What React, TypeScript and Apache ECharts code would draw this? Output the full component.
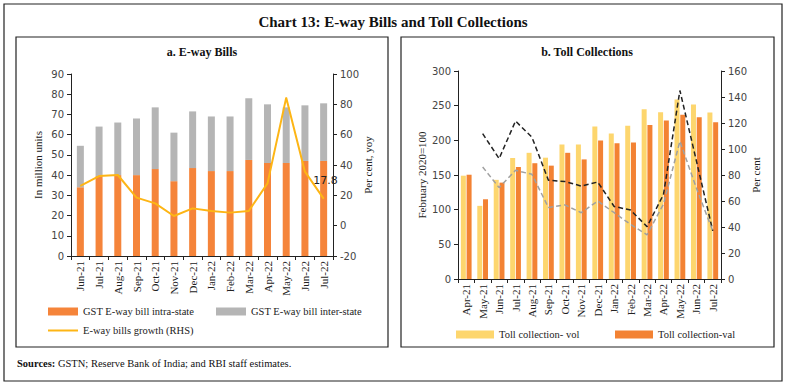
import React, { useEffect, useRef } from "react";
import * as echarts from "echarts";

// Panel a: E-way bills
const monthsA = ["Jun-21","Jul-21","Aug-21","Sep-21","Oct-21","Nov-21","Dec-21","Jan-22","Feb-22","Mar-22","Apr-22","May-22","Jun-22","Jul-22"];
const intraState = [34, 39.5, 40, 40, 43, 37, 43.5, 42, 42, 47.5, 46, 46, 47, 47];
const interState = [20.5, 24.5, 26, 28, 30.5, 24, 28, 27, 27, 30.5, 29, 27.5, 27.5, 28.5];
const ewayGrowth = [26.2, 32.7, 33.4, 18.5, 14.7, 6.4, 11.4, 9.7, 8.6, 9.7, 27.9, 84.4, 35.6, 17.8];

// Panel b: Toll collections
const monthsB = ["Apr-21","May-21","Jun-21","Jul-21","Aug-21","Sep-21","Oct-21","Nov-21","Dec-21","Jan-22","Feb-22","Mar-22","Apr-22","May-22","Jun-22","Jul-22"];
const tollVol = [149, 105.5, 143, 174.5, 182, 175, 194, 194, 220, 210, 221, 245, 240.6, 259, 251.7, 240];
const tollVal = [150.4, 115, 139, 161.5, 167, 163.5, 182, 172.5, 199.6, 195.8, 197, 222, 228.6, 237, 233.4, 226];
const valGrowth = [null, 111.8, 92.6, 121.5, 109, 76, 75, 71.5, 74.6, 55.8, 53, 40.3, 65, 145, 91, 37];
const volGrowth = [null, 86.2, 70.3, 83.6, 80.5, 55, 57, 51, 60, 51, 42, 34, 57.6, 106, 70, 37];

const SERIF = "'Liberation Serif', 'DejaVu Serif', serif";
const SANS = "'DejaVu Sans', Verdana, sans-serif";
const ORANGE = "#F5843A";
const GREY = "#B5B5B5";
const YLINE = "#FDB515";
const YBAR = "#FDD66E";
const OBAR = "#F38233";

const axisLine = { show: true, lineStyle: { color: "#222", width: 1 } };
const tickLbl = { fontFamily: SANS, fontSize: 10, color: "#444" };
const xLbl = { rotate: 90, fontFamily: SERIF, fontSize: 11, color: "#222", margin: 5, interval: 0 };

export default function App() {
  const ref = useRef<HTMLDivElement>(null);
  useEffect(() => {
    const chart = echarts.init(ref.current!, null, { renderer: "svg" });
    const legendText = { fontFamily: SERIF, fontSize: 10.5, color: "#222" };
    const lastA = ewayGrowth.length - 1;
    const option: any = {
      animation: false,
      backgroundColor: "#fff",
      graphic: [
        { type: "rect", shape: { x: 4, y: 4, width: 778, height: 377 }, style: { fill: "none", stroke: "#222", lineWidth: 1.2 } },
        { type: "rect", shape: { x: 16, y: 37, width: 372, height: 310 }, style: { fill: "none", stroke: "#222", lineWidth: 1.2 } },
        { type: "rect", shape: { x: 401, y: 37, width: 373, height: 310 }, style: { fill: "none", stroke: "#222", lineWidth: 1.2 } },
        { type: "text", x: 393, y: 22, style: { text: "Chart 13: E-way Bills and Toll Collections", fontFamily: SERIF, fontSize: 15, fontWeight: "bold", fill: "#111", align: "center", verticalAlign: "middle" } },
        { type: "text", x: 202, y: 52, style: { text: "a. E-way Bills", fontFamily: SERIF, fontSize: 12, fontWeight: "bold", fill: "#111", align: "center", verticalAlign: "middle" } },
        { type: "text", x: 587, y: 52, style: { text: "b. Toll Collections", fontFamily: SERIF, fontSize: 12, fontWeight: "bold", fill: "#111", align: "center", verticalAlign: "middle" } },
        { type: "text", x: 17, y: 363, style: { text: "{b|Sources:} GSTN; Reserve Bank of India; and RBI staff estimates.", rich: { b: { fontFamily: SERIF, fontSize: 10.5, fontWeight: "bold", fill: "#111" } }, fontFamily: SERIF, fontSize: 10.5, fill: "#111", verticalAlign: "middle" } },
      ],
      legend: [
        { data: ["GST E-way bill intra-state"], left: 43, top: 301, itemWidth: 30, itemHeight: 8, icon: "rect", textStyle: legendText, selectedMode: false },
        { data: ["GST E-way bill inter-state"], left: 211, top: 301, itemWidth: 30, itemHeight: 8, icon: "rect", textStyle: legendText, selectedMode: false },
        { data: ["E-way bills growth (RHS)"], left: 43, top: 320, itemWidth: 30, itemHeight: 2, icon: "rect", textStyle: legendText, selectedMode: false },
        { data: ["Toll collection- vol"], left: 451, top: 324, itemWidth: 38, itemHeight: 8, icon: "rect", textStyle: legendText, selectedMode: false },
        { data: ["Toll collection-val"], left: 610, top: 324, itemWidth: 38, itemHeight: 8, icon: "rect", textStyle: legendText, selectedMode: false },
      ],
      grid: [
        { left: 71, top: 74, width: 262, height: 182 },
        { left: 458, top: 71, width: 263, height: 208 },
      ],
      xAxis: [
        { type: "category", gridIndex: 0, data: monthsA, axisLine, axisTick: { show: true, length: 4, lineStyle: { color: "#222" } }, axisLabel: xLbl },
        { type: "category", gridIndex: 1, data: monthsB, axisLine, axisTick: { show: true, length: 4, lineStyle: { color: "#222" } }, axisLabel: xLbl },
      ],
      yAxis: [
        { type: "value", gridIndex: 0, min: 0, max: 90, interval: 10, axisLine, axisTick: { show: true, length: 4 }, splitLine: { show: false }, axisLabel: { ...tickLbl, margin: 7 },
          name: "In million units", nameLocation: "middle", nameRotate: 90, nameGap: 28, nameTextStyle: { fontFamily: SERIF, fontSize: 11, color: "#222" } },
        { type: "value", gridIndex: 0, position: "right", min: -20, max: 100, interval: 20, axisLine, axisTick: { show: true, length: 4 }, splitLine: { show: false }, axisLabel: { ...tickLbl, margin: 7 },
          name: "Per cent, yoy", nameLocation: "middle", nameRotate: 90, nameGap: 27, nameTextStyle: { fontFamily: SERIF, fontSize: 11, color: "#222" } },
        { type: "value", gridIndex: 1, min: 0, max: 300, interval: 50, axisLine, axisTick: { show: true, length: 4 }, splitLine: { show: false }, axisLabel: { ...tickLbl, margin: 7 },
          name: "February 2020=100", nameLocation: "middle", nameRotate: 90, nameGap: 31, nameTextStyle: { fontFamily: SERIF, fontSize: 11, color: "#222" } },
        { type: "value", gridIndex: 1, position: "right", min: 0, max: 160, interval: 20, axisLine, axisTick: { show: true, length: 4 }, splitLine: { show: false }, axisLabel: { ...tickLbl, margin: 7 },
          name: "Per cent", nameLocation: "middle", nameRotate: 90, nameGap: 27, nameTextStyle: { fontFamily: SERIF, fontSize: 11, color: "#222" } },
      ],
      series: [
        { name: "GST E-way bill intra-state", type: "bar", xAxisIndex: 0, yAxisIndex: 0, stack: "a", barWidth: 7, data: intraState, itemStyle: { color: ORANGE } },
        { name: "GST E-way bill inter-state", type: "bar", xAxisIndex: 0, yAxisIndex: 0, stack: "a", barWidth: 7, data: interState, itemStyle: { color: GREY } },
        { name: "E-way bills growth (RHS)", type: "line", xAxisIndex: 0, yAxisIndex: 1, symbol: "circle", symbolSize: 1, showSymbol: true, z: 5,
          lineStyle: { color: YLINE, width: 2 }, itemStyle: { color: YLINE },
          label: { show: true, position: [-10, -23], align: "left", verticalAlign: "top", fontFamily: SANS, fontSize: 11, color: "#222",
            formatter: (p: any) => (p.dataIndex === lastA ? String(p.value) : "") },
          data: ewayGrowth },
        { name: "Toll collection- vol", type: "bar", xAxisIndex: 1, yAxisIndex: 2, barWidth: 5, barGap: "15%", data: tollVol, itemStyle: { color: YBAR } },
        { name: "Toll collection-val", type: "bar", xAxisIndex: 1, yAxisIndex: 2, barWidth: 5, barGap: "15%", data: tollVal, itemStyle: { color: OBAR } },
        { name: "Toll value growth", type: "line", xAxisIndex: 1, yAxisIndex: 3, symbol: "none", data: valGrowth, lineStyle: { color: "#222", width: 1.5, type: [5, 3] } },
        { name: "Toll volume growth", type: "line", xAxisIndex: 1, yAxisIndex: 3, symbol: "none", data: volGrowth, lineStyle: { color: "#A0A0A0", width: 1.5, type: [5, 3] } },
      ],
    };
    chart.setOption(option);
    return () => chart.dispose();
  }, []);
  return <div ref={ref} style={{ position: "fixed", left: 0, top: 0, width: 786, height: 385 }} />;
}
